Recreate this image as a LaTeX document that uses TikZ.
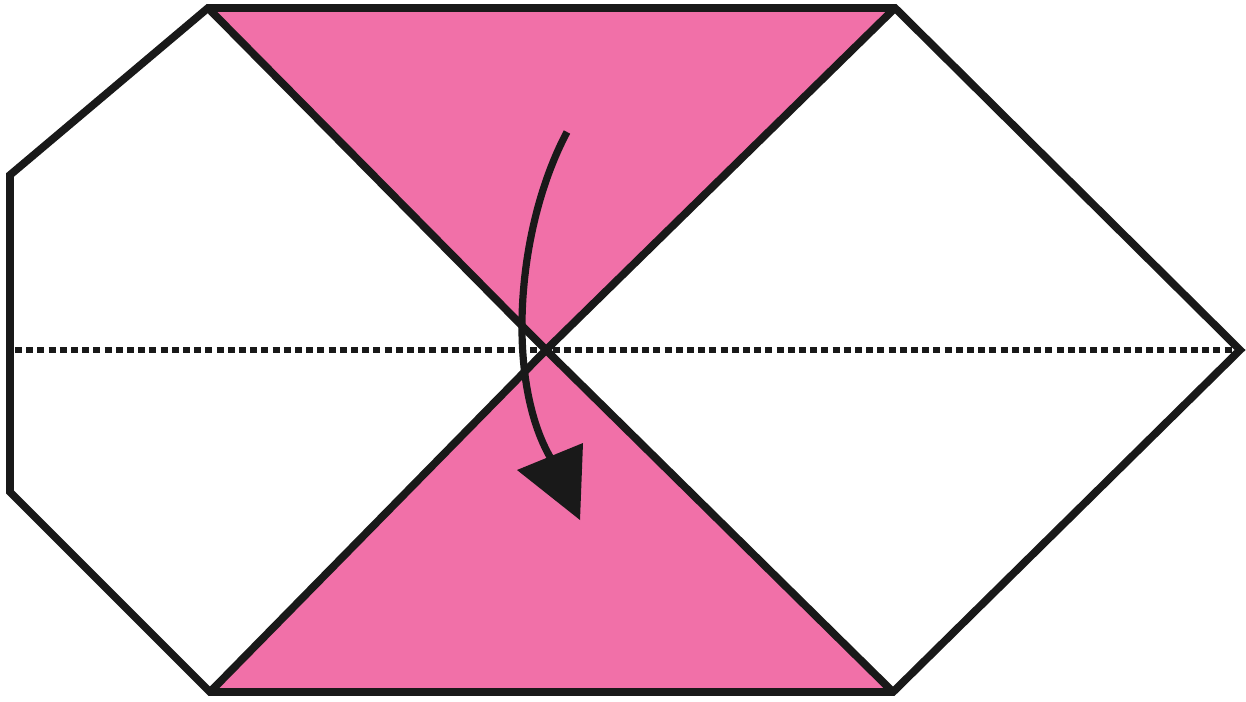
\documentclass[tikz,border=0pt]{standalone}
\definecolor{foldpink}{RGB}{241,112,168}
\begin{document}
\begin{tikzpicture}[x=0.75pt,y=-0.75pt,
  edge/.style={line width=5.8pt,black!90,line join=miter},
  fold/.style={line width=5.2pt,black!90,dash pattern=on 5.2pt off 3.2pt},
  arrowline/.style={line width=5.4pt,black!90}]
\useasboundingbox (0,0) rectangle (1246,702);
\coordinate (TL) at (208,8);
\coordinate (TR) at (895,8);
\coordinate (R) at (1240,350);
\coordinate (BR) at (893,692);
\coordinate (BL) at (210,692);
\coordinate (LB) at (10,492);
\coordinate (LT) at (10,175);
\coordinate (C) at (546,350);
\fill[foldpink] (TL) -- (TR) -- (C) -- cycle;
\fill[foldpink] (BL) -- (C) -- (BR) -- cycle;
\draw[fold] (15,350) -- (1232,350);
\draw[edge] (TL) -- (TR) -- (R) -- (BR) -- (BL) -- (LB) -- (LT) -- cycle;
\draw[edge] (TL) -- (C) -- (BR);
\draw[edge] (TR) -- (C) -- (BL);
\draw[arrowline] (567,132) .. controls (515,230) and (505,385) .. (553,462);
\fill[black!90] (517,470) -- (583,443) -- (580,520) -- cycle;
\end{tikzpicture}
\end{document}
